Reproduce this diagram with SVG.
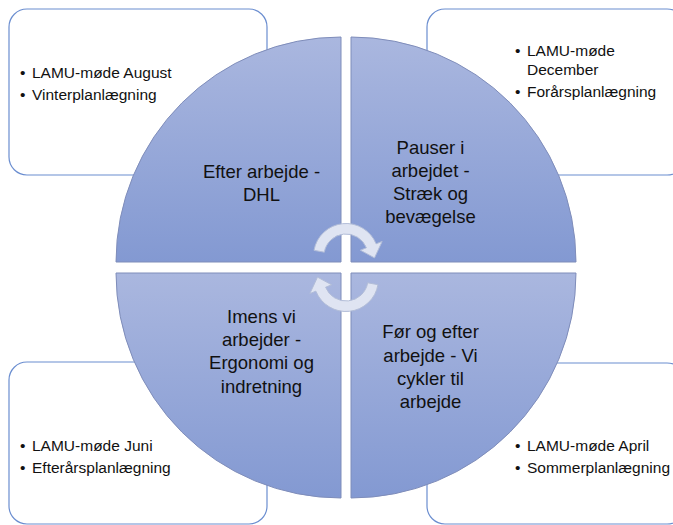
<svg xmlns="http://www.w3.org/2000/svg" width="673" height="525" viewBox="0 0 673 525">
<defs>
<linearGradient id="qg" x1="0" y1="0" x2="0" y2="1">
<stop offset="0" stop-color="#aab7df"/>
<stop offset="1" stop-color="#8399d2"/>
</linearGradient>
<style>
.box{fill:#ffffff;stroke:#6b8ed0;stroke-width:1.2}
.q{fill:url(#qg);stroke:#7f8dba;stroke-width:1}
.bt{font-family:"Liberation Sans",Arial,sans-serif;font-size:15.5px;fill:#111}
.qt{font-family:"Liberation Sans",Arial,sans-serif;font-size:18.5px;fill:#111;text-anchor:middle}
.arr{fill:#dfe4f2;stroke:#b2bdd8;stroke-width:1}
</style>
</defs>
<rect width="673" height="525" fill="#ffffff"/>
<g id="box-top-left">
<rect class="box" x="9" y="9" width="258" height="166" rx="18"/>
<text class="bt" x="20" y="78">•</text><text class="bt" x="32" y="78">LAMU-møde August</text>
<text class="bt" x="20" y="100">•</text><text class="bt" x="32" y="100">Vinterplanlægning</text>
</g>
<g id="box-top-right">
<rect class="box" x="427" y="9" width="258" height="166" rx="18"/>
<text class="bt" x="515" y="56">•</text><text class="bt" x="527" y="56">LAMU-møde</text>
<text class="bt" x="527" y="75">December</text>
<text class="bt" x="515" y="97">•</text><text class="bt" x="527" y="97">Forårsplanlægning</text>
</g>
<g id="box-bottom-left">
<rect class="box" x="9" y="362" width="258" height="162" rx="18"/>
<text class="bt" x="20" y="451">•</text><text class="bt" x="32" y="451">LAMU-møde Juni</text>
<text class="bt" x="20" y="473">•</text><text class="bt" x="32" y="473">Efterårsplanlægning</text>
</g>
<g id="box-bottom-right">
<rect class="box" x="427" y="363" width="258" height="161" rx="18"/>
<text class="bt" x="515" y="451">•</text><text class="bt" x="527" y="451">LAMU-møde April</text>
<text class="bt" x="515" y="473">•</text><text class="bt" x="527" y="473">Sommerplanlægning</text>
</g>
<g id="quadrant-top-left">
<path class="q" d="M341,262 L116,262 A225,225 0 0 1 341,37 Z"/>
<text class="qt" x="261.5" y="178">Efter arbejde -</text>
<text class="qt" x="261.5" y="201">DHL</text>
</g>
<g id="quadrant-top-right">
<path class="q" d="M351,262 L351,37 A225,225 0 0 1 576,262 Z"/>
<text class="qt" x="430.5" y="154">Pauser i</text>
<text class="qt" x="430.5" y="177">arbejdet -</text>
<text class="qt" x="430.5" y="200">Stræk og</text>
<text class="qt" x="430.5" y="223">bevægelse</text>
</g>
<g id="quadrant-bottom-left">
<path class="q" d="M341,273 L341,498 A225,225 0 0 1 116,273 Z"/>
<text class="qt" x="261.5" y="323">Imens vi</text>
<text class="qt" x="261.5" y="346">arbejder -</text>
<text class="qt" x="261.5" y="369">Ergonomi og</text>
<text class="qt" x="261.5" y="393">indretning</text>
</g>
<g id="quadrant-bottom-right">
<path class="q" d="M351,273 L576,273 A225,225 0 0 1 351,498 Z"/>
<text class="qt" x="430.5" y="338">Før og efter</text>
<text class="qt" x="430.5" y="362">arbejde - Vi</text>
<text class="qt" x="430.5" y="385">cykler til</text>
<text class="qt" x="430.5" y="408">arbejde</text>
</g>
<g id="connectors">
<path class="arr" d="M313.99,250.36 A32.5,32.5 0 0 1 376.13,243.83 L382.16,241.39 L374.5,257.9 L360.37,250.19 L366.4,247.76 A22,22 0 0 0 324.33,252.18 Z"/>
<path class="arr" d="M378.01,284.64 A32.5,32.5 0 0 1 315.87,291.17 L309.84,293.61 L317.5,277.1 L331.63,284.81 L325.6,287.24 A22,22 0 0 0 367.67,282.82 Z"/>
</g>
</svg>
